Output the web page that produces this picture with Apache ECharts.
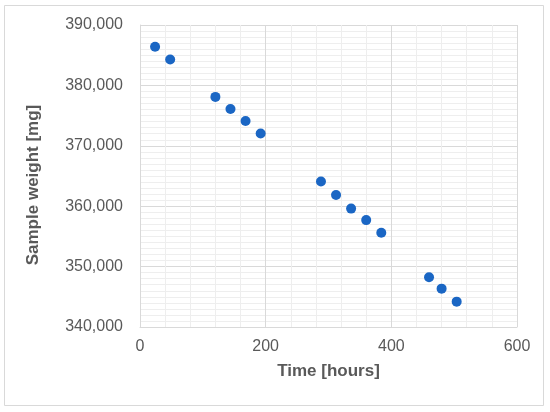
<!DOCTYPE html>
<html>
<head>
<meta charset="utf-8">
<script src="https://cdn.jsdelivr.net/npm/echarts@6/dist/echarts.min.js"></script>
<style>html,body{margin:0;padding:0;background:#fff;}#c{width:550px;height:412px;}</style>
</head>
<body>
<div id="c"></div>
<script>
const timeHours = [24, 48, 120, 144, 168, 192, 288, 312, 336, 360, 384, 460, 480, 504];
const weightMg = [386400, 384300, 378100, 376100, 374100, 372050, 364100, 361850, 359600, 357700, 355600, 348250, 346350, 344200];
const xTitle = 'Time [hours]';
const yTitle = 'Sample weight [mg]';

const chart = echarts.init(document.getElementById('c'), null, {renderer: 'canvas'});
const font = '"Liberation Sans", Arial, sans-serif';
chart.setOption({
  animation: false,
  backgroundColor: '#fff',
  graphic: [{
    type: 'rect', shape: {x: 4.5, y: 5.5, width: 539, height: 400},
    style: {fill: 'none', stroke: '#d9d9d9', lineWidth: 1}, silent: true, z: -1
  }],
  grid: {left: 140, top: 25, width: 377, height: 302, containLabel: false},
  xAxis: {
    type: 'value', min: 0, max: 600, interval: 200,
    name: xTitle, nameLocation: 'middle', nameGap: 36,
    nameTextStyle: {color: '#595959', fontSize: 17, fontWeight: 'bold', fontFamily: font},
    axisLine: {show: true, lineStyle: {color: '#d9d9d9'}},
    axisTick: {show: false},
    axisLabel: {color: '#595959', fontSize: 16, fontFamily: font, margin: 12},
    splitLine: {show: true, lineStyle: {color: '#d9d9d9'}},
    minorTick: {show: false, splitNumber: 5},
    minorSplitLine: {show: true, lineStyle: {color: '#eeeeee'}}
  },
  yAxis: {
    type: 'value', min: 340000, max: 390000, interval: 10000,
    name: yTitle, nameLocation: 'middle', nameGap: 98,
    nameTextStyle: {color: '#595959', fontSize: 17, fontWeight: 'bold', fontFamily: font,
      padding: [0, 18, 0, 0]},
    axisLine: {show: true, lineStyle: {color: '#d9d9d9'}},
    axisTick: {show: false},
    axisLabel: {color: '#595959', fontSize: 16, fontFamily: font, margin: 17,
      formatter: v => v.toLocaleString('en-US')},
    splitLine: {show: true, lineStyle: {color: '#d9d9d9'}},
    minorTick: {show: false, splitNumber: 10},
    minorSplitLine: {show: true, lineStyle: {color: '#eeeeee'}}
  },
  series: [{
    type: 'scatter',
    data: timeHours.map((t, i) => [t, weightMg[i]]),
    symbol: 'circle', symbolSize: 10,
    itemStyle: {color: '#1a66c4', opacity: 1}
  }]
});
</script>
</body>
</html>
